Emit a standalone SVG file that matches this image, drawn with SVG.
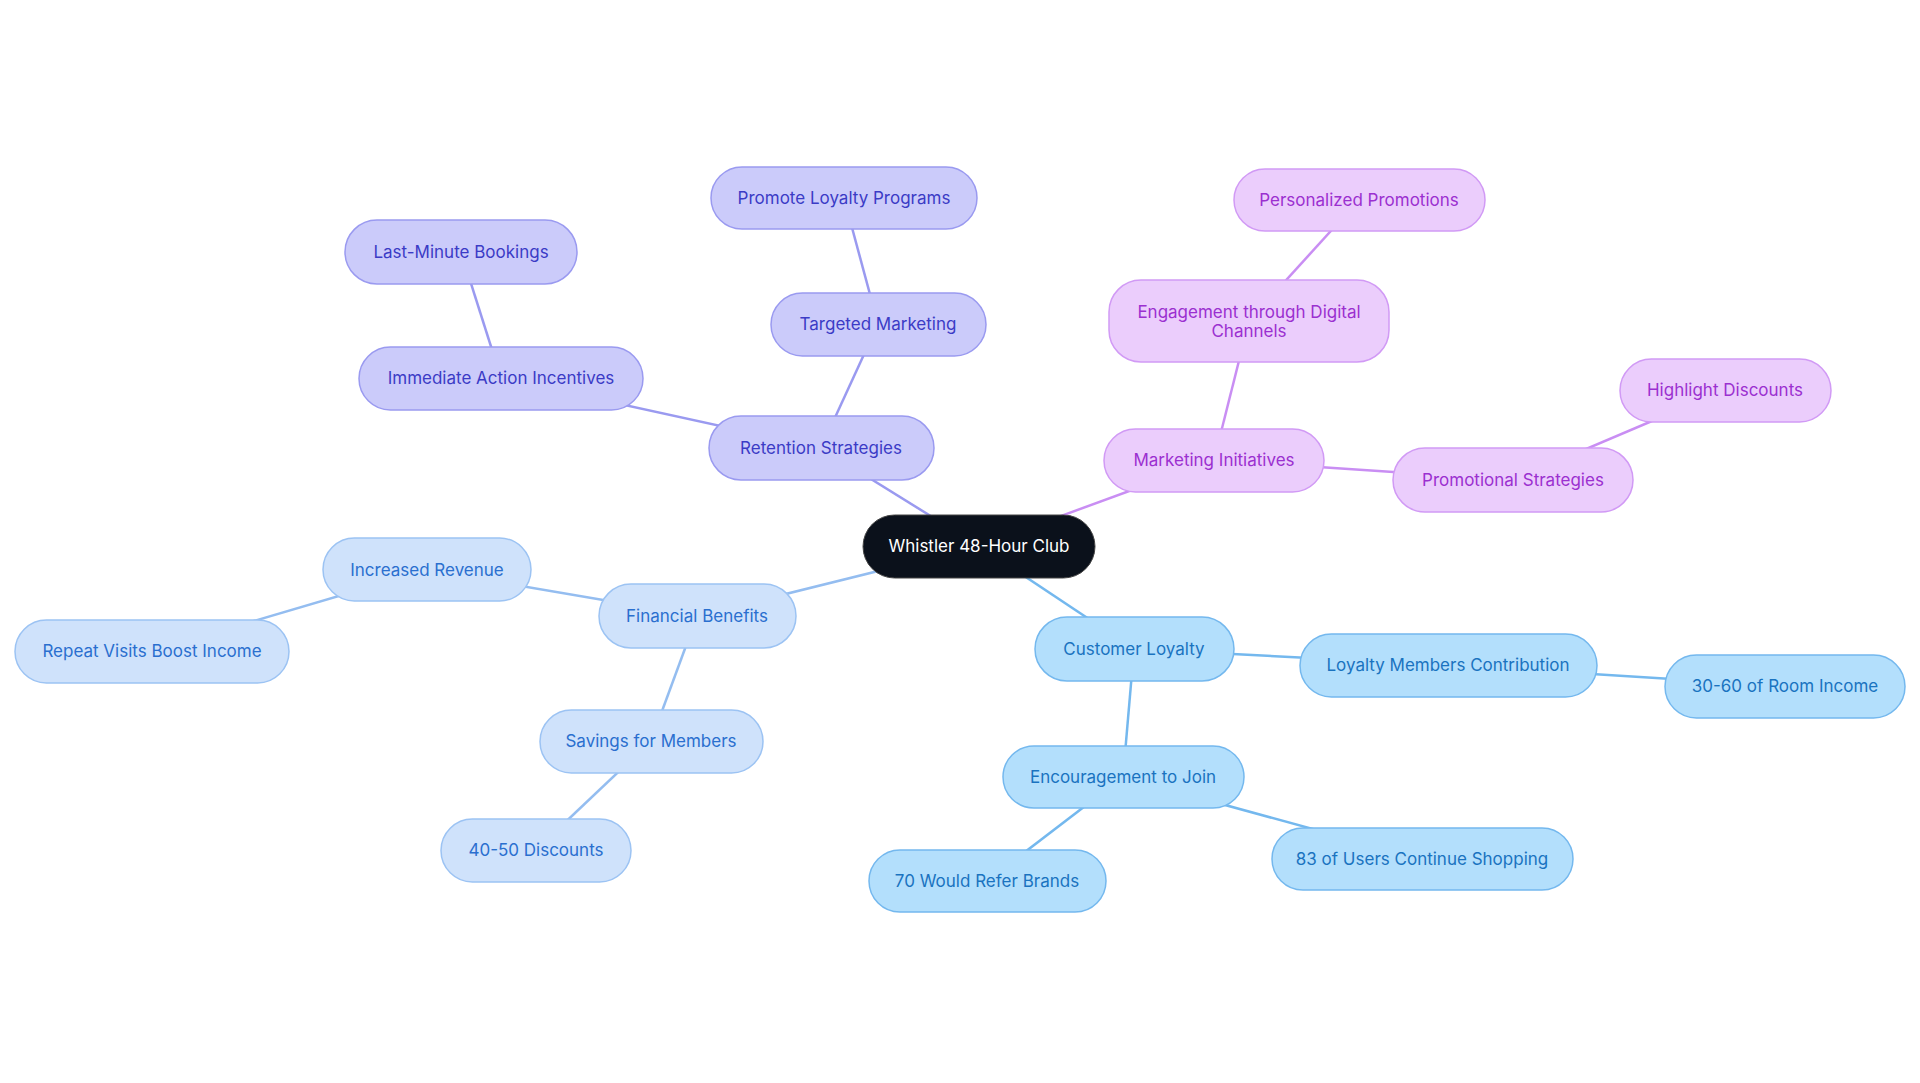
<svg xmlns="http://www.w3.org/2000/svg" width="1920" height="1083" viewBox="0 0 1920 1083">
<style>
text{font-family:Inter,"Noto Sans",sans-serif;font-size:17px;text-anchor:middle;dominant-baseline:central}
.p rect{fill:#cbcbfa;stroke:#9a9af0;stroke-width:1.5}.p text{fill:#3b3bc6}
.m rect{fill:#ebcdfc;stroke:#d19af5;stroke-width:1.5}.m text{fill:#9b30d0}
.f rect{fill:#cfe2fb;stroke:#9cc3f3;stroke-width:1.5}.f text{fill:#2a6fcf}
.c rect{fill:#b3dffc;stroke:#74b8ee;stroke-width:1.5}.c text{fill:#1a73c0}
#edges line{stroke-width:2.5}
.ep{stroke:#9a9af0}.em{stroke:#c98ef3}.ef{stroke:#94bdf0}.ec{stroke:#74b8ee}
</style>
<rect width="1920" height="1083" fill="#fff"/>
<g id="edges">
<line class="ep" x1="979" y1="546" x2="821" y2="448"/>
<line class="ep" x1="821" y1="448" x2="878" y2="324"/>
<line class="ep" x1="878" y1="324" x2="844" y2="198"/>
<line class="ep" x1="821" y1="448" x2="501" y2="378"/>
<line class="ep" x1="501" y1="378" x2="461" y2="252"/>
<line class="em" x1="979" y1="546" x2="1214" y2="460"/>
<line class="em" x1="1214" y1="460" x2="1249" y2="321"/>
<line class="em" x1="1249" y1="321" x2="1359" y2="200"/>
<line class="em" x1="1214" y1="460" x2="1513" y2="480"/>
<line class="em" x1="1513" y1="480" x2="1725" y2="390"/>
<line class="ef" x1="979" y1="546" x2="697" y2="616"/>
<line class="ef" x1="697" y1="616" x2="427" y2="570"/>
<line class="ef" x1="427" y1="570" x2="152" y2="651"/>
<line class="ef" x1="697" y1="616" x2="651" y2="741"/>
<line class="ef" x1="651" y1="741" x2="536" y2="850"/>
<line class="ec" x1="979" y1="546" x2="1134" y2="649"/>
<line class="ec" x1="1134" y1="649" x2="1448" y2="665"/>
<line class="ec" x1="1448" y1="665" x2="1785" y2="686"/>
<line class="ec" x1="1134" y1="649" x2="1123" y2="777"/>
<line class="ec" x1="1123" y1="777" x2="987" y2="881"/>
<line class="ec" x1="1123" y1="777" x2="1422" y2="859"/>
</g>
<g id="n0"><rect x="863" y="515" width="232" height="63" rx="31.5" fill="#0b111b" stroke="#444" stroke-width="1"/><text x="979" y="546" fill="#fff">Whistler 48-Hour Club</text></g>
<g id="n1" class="p"><rect x="709" y="416" width="225" height="64" rx="32"/><text x="821" y="448">Retention Strategies</text></g>
<g id="n2" class="p"><rect x="771" y="293" width="215" height="63" rx="31.5"/><text x="878" y="324">Targeted Marketing</text></g>
<g id="n3" class="p"><rect x="711" y="167" width="266" height="62" rx="31"/><text x="844" y="198">Promote Loyalty Programs</text></g>
<g id="n4" class="p"><rect x="359" y="347" width="284" height="63" rx="31.5"/><text x="501" y="378">Immediate Action Incentives</text></g>
<g id="n5" class="p"><rect x="345" y="220" width="232" height="64" rx="32"/><text x="461" y="252">Last-Minute Bookings</text></g>
<g id="n6" class="m"><rect x="1104" y="429" width="220" height="63" rx="31.5"/><text x="1214" y="460">Marketing Initiatives</text></g>
<g id="n7" class="m"><rect x="1109" y="280" width="280" height="82" rx="32"/><text x="1249" y="312">Engagement through Digital</text><text x="1249" y="331">Channels</text></g>
<g id="n8" class="m"><rect x="1234" y="169" width="251" height="62" rx="31"/><text x="1359" y="200">Personalized Promotions</text></g>
<g id="n9" class="m"><rect x="1393" y="448" width="240" height="64" rx="32"/><text x="1513" y="480">Promotional Strategies</text></g>
<g id="n10" class="m"><rect x="1620" y="359" width="211" height="63" rx="31.5"/><text x="1725" y="390">Highlight Discounts</text></g>
<g id="n11" class="f"><rect x="599" y="584" width="197" height="64" rx="32"/><text x="697" y="616">Financial Benefits</text></g>
<g id="n12" class="f"><rect x="323" y="538" width="208" height="63" rx="31.5"/><text x="427" y="570">Increased Revenue</text></g>
<g id="n13" class="f"><rect x="15" y="620" width="274" height="63" rx="31.5"/><text x="152" y="651">Repeat Visits Boost Income</text></g>
<g id="n14" class="f"><rect x="540" y="710" width="223" height="63" rx="31.5"/><text x="651" y="741">Savings for Members</text></g>
<g id="n15" class="f"><rect x="441" y="819" width="190" height="63" rx="31.5"/><text x="536" y="850">40-50 Discounts</text></g>
<g id="n16" class="c"><rect x="1035" y="617" width="199" height="64" rx="32"/><text x="1134" y="649">Customer Loyalty</text></g>
<g id="n17" class="c"><rect x="1300" y="634" width="297" height="63" rx="31.5"/><text x="1448" y="665">Loyalty Members Contribution</text></g>
<g id="n18" class="c"><rect x="1665" y="655" width="240" height="63" rx="31.5"/><text x="1785" y="686">30-60 of Room Income</text></g>
<g id="n19" class="c"><rect x="1003" y="746" width="241" height="62" rx="31"/><text x="1123" y="777">Encouragement to Join</text></g>
<g id="n20" class="c"><rect x="869" y="850" width="237" height="62" rx="31"/><text x="987" y="881">70 Would Refer Brands</text></g>
<g id="n21" class="c"><rect x="1272" y="828" width="301" height="62" rx="31"/><text x="1422" y="859">83 of Users Continue Shopping</text></g>
</svg>
